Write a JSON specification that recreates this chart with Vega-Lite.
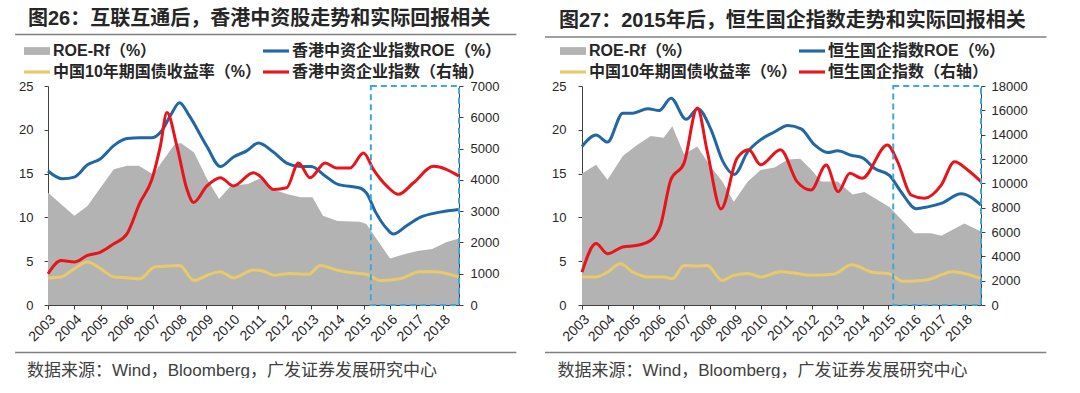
{
  "$schema": "https://vega.github.io/schema/vega-lite/v6.json",
  "background": "white",
  "padding": {"left": 14, "top": 8, "right": 0, "bottom": 0},
  "autosize": {"type": "pad"},
  "spacing": 26,
  "datasets": {
    "l_rf": [
      {"t": 2003.0, "v": 12.8}, {"t": 2004.0, "v": 10.2}, {"t": 2004.5, "v": 11.3}, {"t": 2005.0, "v": 13.4},
      {"t": 2005.5, "v": 15.5}, {"t": 2006.0, "v": 15.9}, {"t": 2006.45, "v": 15.9}, {"t": 2007.0, "v": 14.9},
      {"t": 2007.3, "v": 16.2}, {"t": 2007.8, "v": 18.3}, {"t": 2008.05, "v": 18.5}, {"t": 2008.55, "v": 17.4},
      {"t": 2009.05, "v": 14.35}, {"t": 2009.5, "v": 12.1}, {"t": 2009.95, "v": 13.6}, {"t": 2010.6, "v": 13.8},
      {"t": 2011.1, "v": 14.5}, {"t": 2011.55, "v": 13.2}, {"t": 2012.1, "v": 12.65}, {"t": 2012.6, "v": 12.3},
      {"t": 2013.05, "v": 12.3}, {"t": 2013.45, "v": 10.2}, {"t": 2014.0, "v": 9.6}, {"t": 2014.85, "v": 9.5},
      {"t": 2015.1, "v": 9.25}, {"t": 2016.0, "v": 5.3}, {"t": 2016.6, "v": 5.85}, {"t": 2017.1, "v": 6.2},
      {"t": 2017.6, "v": 6.4}, {"t": 2018.15, "v": 7.2}, {"t": 2018.62, "v": 7.6}
    ],
    "l_roe": [
      {"t": 2003.0, "v": 15.3}, {"t": 2003.55, "v": 14.4}, {"t": 2004.0, "v": 14.6}, {"t": 2004.5, "v": 16.0},
      {"t": 2005.0, "v": 16.7}, {"t": 2005.5, "v": 18.2}, {"t": 2006.0, "v": 19.0}, {"t": 2006.5, "v": 19.1},
      {"t": 2006.95, "v": 19.1}, {"t": 2007.3, "v": 19.8}, {"t": 2007.65, "v": 21.6}, {"t": 2008.0, "v": 23.1},
      {"t": 2008.35, "v": 21.7}, {"t": 2009.04, "v": 18.1}, {"t": 2009.55, "v": 15.8}, {"t": 2010.05, "v": 16.9},
      {"t": 2010.55, "v": 17.6}, {"t": 2011.0, "v": 18.5}, {"t": 2011.55, "v": 17.5}, {"t": 2012.07, "v": 16.2},
      {"t": 2012.6, "v": 15.8}, {"t": 2013.0, "v": 15.8}, {"t": 2013.55, "v": 14.7}, {"t": 2014.0, "v": 13.8},
      {"t": 2014.9, "v": 13.3}, {"t": 2015.1, "v": 12.8}, {"t": 2015.45, "v": 10.6}, {"t": 2015.88, "v": 8.7},
      {"t": 2016.12, "v": 8.1}, {"t": 2016.63, "v": 9.05}, {"t": 2017.14, "v": 10.0}, {"t": 2017.9, "v": 10.6},
      {"t": 2018.62, "v": 10.9}
    ],
    "l_bond": [
      {"t": 2003.0, "v": 3.1}, {"t": 2003.5, "v": 3.2}, {"t": 2004.0, "v": 4.15}, {"t": 2004.5, "v": 4.9},
      {"t": 2005.0, "v": 4.15}, {"t": 2005.5, "v": 3.2}, {"t": 2006.0, "v": 3.1}, {"t": 2006.5, "v": 3.0},
      {"t": 2007.05, "v": 4.35}, {"t": 2007.55, "v": 4.45}, {"t": 2008.0, "v": 4.5}, {"t": 2008.55, "v": 2.8},
      {"t": 2009.05, "v": 3.4}, {"t": 2009.55, "v": 3.8}, {"t": 2010.05, "v": 3.1}, {"t": 2010.8, "v": 4.0},
      {"t": 2011.1, "v": 3.95}, {"t": 2011.6, "v": 3.4}, {"t": 2012.2, "v": 3.6}, {"t": 2012.9, "v": 3.5},
      {"t": 2013.35, "v": 4.5}, {"t": 2013.97, "v": 4.0}, {"t": 2014.48, "v": 3.7}, {"t": 2015.1, "v": 3.5},
      {"t": 2015.63, "v": 2.8}, {"t": 2016.38, "v": 3.0}, {"t": 2017.14, "v": 3.8}, {"t": 2017.65, "v": 3.8},
      {"t": 2018.62, "v": 3.2}
    ],
    "l_idx": [
      {"t": 2003.0, "v": 1000}, {"t": 2003.5, "v": 1420}, {"t": 2004.0, "v": 1375}, {"t": 2004.5, "v": 1586},
      {"t": 2005.0, "v": 1692}, {"t": 2005.5, "v": 1956}, {"t": 2006.0, "v": 2273}, {"t": 2006.5, "v": 3278},
      {"t": 2006.95, "v": 4018}, {"t": 2007.27, "v": 5076}, {"t": 2007.52, "v": 6150}, {"t": 2007.9, "v": 5076},
      {"t": 2008.28, "v": 3701}, {"t": 2008.53, "v": 3278}, {"t": 2009.04, "v": 3807}, {"t": 2009.55, "v": 4071},
      {"t": 2010.05, "v": 3807}, {"t": 2010.8, "v": 4230}, {"t": 2011.06, "v": 4118}, {"t": 2011.57, "v": 3695},
      {"t": 2012.07, "v": 3748}, {"t": 2012.52, "v": 4540}, {"t": 2012.96, "v": 4065}, {"t": 2013.53, "v": 4540},
      {"t": 2013.97, "v": 4382}, {"t": 2014.48, "v": 4382}, {"t": 2014.99, "v": 4857}, {"t": 2015.37, "v": 4329},
      {"t": 2015.88, "v": 3801}, {"t": 2016.32, "v": 3537}, {"t": 2016.89, "v": 3906}, {"t": 2017.65, "v": 4434},
      {"t": 2018.62, "v": 4118}
    ],
    "r_rf": [
      {"t": 2003.0, "v": 15.0}, {"t": 2003.55, "v": 16.0}, {"t": 2004.0, "v": 14.3}, {"t": 2004.6, "v": 17.0},
      {"t": 2005.17, "v": 18.3}, {"t": 2005.7, "v": 19.3}, {"t": 2006.2, "v": 19.1}, {"t": 2006.54, "v": 20.4},
      {"t": 2007.0, "v": 17.2}, {"t": 2007.52, "v": 18.1}, {"t": 2008.04, "v": 15.8}, {"t": 2008.5, "v": 14.1},
      {"t": 2008.95, "v": 11.8}, {"t": 2009.5, "v": 14.1}, {"t": 2010.0, "v": 15.4}, {"t": 2010.55, "v": 15.7},
      {"t": 2011.07, "v": 16.6}, {"t": 2011.55, "v": 16.7}, {"t": 2012.0, "v": 15.4}, {"t": 2012.37, "v": 14.1},
      {"t": 2013.02, "v": 14.1}, {"t": 2013.61, "v": 12.6}, {"t": 2014.07, "v": 12.9}, {"t": 2015.05, "v": 11.2},
      {"t": 2016.03, "v": 8.2}, {"t": 2016.69, "v": 8.2}, {"t": 2017.08, "v": 7.9}, {"t": 2017.99, "v": 9.3},
      {"t": 2018.64, "v": 8.4}
    ],
    "r_roe": [
      {"t": 2003.0, "v": 18.1}, {"t": 2003.55, "v": 19.4}, {"t": 2004.0, "v": 18.6}, {"t": 2004.6, "v": 21.9},
      {"t": 2004.99, "v": 21.9}, {"t": 2005.58, "v": 22.4}, {"t": 2006.03, "v": 22.2}, {"t": 2006.49, "v": 23.6},
      {"t": 2007.08, "v": 21.2}, {"t": 2007.54, "v": 22.4}, {"t": 2008.06, "v": 20.0}, {"t": 2008.52, "v": 16.4},
      {"t": 2008.97, "v": 14.9}, {"t": 2009.5, "v": 17.5}, {"t": 2010.02, "v": 18.9}, {"t": 2010.54, "v": 19.75},
      {"t": 2011.07, "v": 20.5}, {"t": 2011.59, "v": 20.1}, {"t": 2012.11, "v": 18.3}, {"t": 2012.63, "v": 17.4},
      {"t": 2013.02, "v": 17.6}, {"t": 2013.55, "v": 17.1}, {"t": 2014.0, "v": 16.8}, {"t": 2014.46, "v": 15.6},
      {"t": 2015.05, "v": 14.8}, {"t": 2015.51, "v": 12.9}, {"t": 2016.1, "v": 11.0}, {"t": 2016.55, "v": 11.2},
      {"t": 2017.08, "v": 11.6}, {"t": 2017.86, "v": 12.7}, {"t": 2018.64, "v": 11.4}
    ],
    "r_bond": [
      {"t": 2003.0, "v": 3.2}, {"t": 2003.55, "v": 3.2}, {"t": 2004.0, "v": 3.75}, {"t": 2004.5, "v": 4.7},
      {"t": 2005.0, "v": 3.75}, {"t": 2005.57, "v": 3.2}, {"t": 2006.2, "v": 3.2}, {"t": 2006.54, "v": 3.0},
      {"t": 2007.0, "v": 4.5}, {"t": 2007.52, "v": 4.45}, {"t": 2007.91, "v": 4.5}, {"t": 2008.5, "v": 2.8},
      {"t": 2008.95, "v": 3.4}, {"t": 2009.5, "v": 3.6}, {"t": 2010.0, "v": 3.2}, {"t": 2010.78, "v": 3.8},
      {"t": 2011.43, "v": 3.6}, {"t": 2011.95, "v": 3.4}, {"t": 2012.85, "v": 3.5}, {"t": 2013.57, "v": 4.6},
      {"t": 2014.42, "v": 3.7}, {"t": 2015.0, "v": 3.6}, {"t": 2015.59, "v": 2.7}, {"t": 2016.5, "v": 2.85},
      {"t": 2017.54, "v": 3.8}, {"t": 2018.64, "v": 3.0}
    ],
    "r_idx": [
      {"t": 2003.0, "v": 2700}, {"t": 2003.55, "v": 5045}, {"t": 2004.0, "v": 4218}, {"t": 2004.59, "v": 4768},
      {"t": 2005.17, "v": 4906}, {"t": 2005.7, "v": 5320}, {"t": 2006.08, "v": 6560}, {"t": 2006.48, "v": 10280},
      {"t": 2007.0, "v": 11660}, {"t": 2007.52, "v": 16200}, {"t": 2007.91, "v": 12620}, {"t": 2008.45, "v": 7900},
      {"t": 2009.08, "v": 12070}, {"t": 2009.54, "v": 12760}, {"t": 2010.0, "v": 11520}, {"t": 2010.78, "v": 12760},
      {"t": 2011.43, "v": 10140}, {"t": 2011.98, "v": 9450}, {"t": 2012.57, "v": 11500}, {"t": 2013.04, "v": 9315},
      {"t": 2013.5, "v": 10820}, {"t": 2013.98, "v": 10410}, {"t": 2014.97, "v": 13150}, {"t": 2015.37, "v": 11780},
      {"t": 2015.9, "v": 9040}, {"t": 2016.42, "v": 8770}, {"t": 2017.08, "v": 9860}, {"t": 2017.6, "v": 11780},
      {"t": 2018.12, "v": 11100}, {"t": 2018.64, "v": 10140}
    ]
  },
  "config": {
    "view": {"stroke": null},
    "font": "Liberation Sans",
    "axis": {
      "domainColor": "#404040", "tickColor": "#404040", "tickSize": 4, "domainWidth": 1, "tickWidth": 1,
      "labelFont": "Liberation Sans", "labelFontSize": 13, "labelColor": "#262626", "grid": false,
      "labelOverlap": false
    },
    "title": {
      "font": "Liberation Sans, Noto Sans CJK SC", "fontSize": 20, "fontWeight": "bold", "color": "#262626",
      "anchor": "start", "frame": "group", "offset": 5
    },
    "legend": {
      "orient": "none", "direction": "horizontal", "columns": 2, "columnPadding": 1, "rowPadding": -6, "symbolSize": 676,
      "symbolStrokeWidth": 0, "labelOffset": 3, "labelFont": "Liberation Sans, Noto Sans CJK SC",
      "labelFontSize": 16, "labelFontWeight": "bold", "labelColor": "#262626", "labelLimit": 400,
      "symbolOpacity": 1
    }
  },
  "resolve": {"scale": {"color": "independent"}, "legend": {"color": "independent"}},
  "hconcat": [
    {
      "width": 411, "height": 219,
      "title": {"text": "图26：互联互通后，香港中资股走势和实际回报相关", "dx": -20},
      "resolve": {"scale": {"y": "independent"}},
      "layer": [
        {
          "layer": [
            {
              "data": {"name": "l_rf"},
              "mark": {"type": "area", "opacity": 1, "interpolate": "linear"},
              "encoding": {
                "x": {"field": "t", "type": "quantitative",
                  "scale": {"domain": [2003, 2018.62], "nice": false, "zero": false},
                  "axis": {"values": [2003,2004,2005,2006,2007,2008,2009,2010,2011,2012,2013,2014,2015,2016,2017,2018],
                    "tickCount": 30, "format": "d", "labelAngle": -45, "labelPadding": 3, "labelFontSize": 14, "labelOverlap": false,
                    "title": "数据来源：Wind，Bloomberg，广发证券发展研究中心",
                    "titleFont": "Liberation Sans, Noto Sans CJK SC", "titleFontSize": 17, "titleFontWeight": "normal",
                    "titleColor": "#404040", "titleAlign": "left", "titleBaseline": "middle", "titleAnchor": "start",
                    "titleX": -21.5, "titleY": 65}},
                "y": {"field": "v", "type": "quantitative",
                  "scale": {"domain": [0, 25], "nice": false},
                  "axis": {"values": [0, 5, 10, 15, 20, 25], "tickCount": 20, "title": null, "labelPadding": 11, "labelOverlap": false}},
                "color": {"datum": "ROE-Rf（%）",
                  "scale": {"domain": ["ROE-Rf（%）", "香港中资企业指数ROE（%）", "中国10年期国债收益率（%）", "香港中资企业指数（右轴）"],
                    "range": ["#B3B3B3", "#2167A4", "#E9C96A", "#E8141B"]},
                  "legend": {"title": null, "legendX": -24, "legendY": -48,
                    "encode": {"symbols": {"update": {"shape": {"signal": "datum.value === 'ROE-Rf（%）' ? 'M-1,-0.3H1V0.3H-1Z' : 'M-1,-0.12H1V0.12H-1Z'"}}}}}}
              }
            },
            {
              "data": {"name": "l_roe"},
              "mark": {"type": "line", "strokeWidth": 3, "interpolate": "monotone"},
              "encoding": {
                "x": {"field": "t", "type": "quantitative"},
                "y": {"field": "v", "type": "quantitative"},
                "color": {"datum": "香港中资企业指数ROE（%）", "legend": null}
              }
            },
            {
              "data": {"name": "l_bond"},
              "mark": {"type": "line", "strokeWidth": 3, "interpolate": "monotone"},
              "encoding": {
                "x": {"field": "t", "type": "quantitative"},
                "y": {"field": "v", "type": "quantitative"},
                "color": {"datum": "中国10年期国债收益率（%）", "legend": null}
              }
            },
            {
              "data": {"values": [{}]},
              "mark": {"type": "rule", "color": "#808080", "strokeWidth": 1.5},
              "encoding": {"x": {"datum": 2001.75}, "x2": {"datum": 2020.8}, "y": {"datum": 30.87}}
            },
            {
              "data": {"values": [{}]},
              "mark": {"type": "rule", "color": "#808080", "strokeWidth": 1.5},
              "encoding": {"x": {"datum": 2001.75}, "x2": {"datum": 2020.8}, "y": {"datum": -5.42}}
            }
          ]
        },
        {
          "layer": [
            {
              "data": {"name": "l_idx"},
              "mark": {"type": "line", "strokeWidth": 3, "interpolate": "monotone"},
              "encoding": {
                "x": {"field": "t", "type": "quantitative"},
                "y": {"field": "v", "type": "quantitative",
                  "scale": {"domain": [0, 7000], "nice": false},
                  "axis": {"orient": "right", "values": [0,1000,2000,3000,4000,5000,6000,7000], "tickCount": 20, "format": "d", "title": null, "labelPadding": 7, "labelOverlap": false}},
                "color": {"datum": "香港中资企业指数（右轴）", "legend": null}
              }
            },
            {
              "data": {"values": [{}]},
              "mark": {"type": "rect", "filled": false, "stroke": "#3EA8DC", "strokeWidth": 2, "strokeDash": [6, 4]},
              "encoding": {"x": {"datum": 2015.27}, "x2": {"datum": 2018.62}, "y": {"datum": 0}, "y2": {"datum": 7000}}
            }
          ]
        }
      ]
    },
    {
      "width": 399, "height": 219,
      "title": {"text": "图27：2015年后，恒生国企指数走势和实际回报相关", "dx": -23},
      "resolve": {"scale": {"y": "independent"}},
      "layer": [
        {
          "layer": [
            {
              "data": {"name": "r_rf"},
              "mark": {"type": "area", "opacity": 1, "interpolate": "linear"},
              "encoding": {
                "x": {"field": "t", "type": "quantitative",
                  "scale": {"domain": [2003, 2018.64], "nice": false, "zero": false},
                  "axis": {"values": [2003,2004,2005,2006,2007,2008,2009,2010,2011,2012,2013,2014,2015,2016,2017,2018],
                    "tickCount": 30, "format": "d", "labelAngle": -45, "labelPadding": 3, "labelFontSize": 14, "labelOverlap": false,
                    "title": "数据来源：Wind，Bloomberg，广发证券发展研究中心",
                    "titleFont": "Liberation Sans, Noto Sans CJK SC", "titleFontSize": 17, "titleFontWeight": "normal",
                    "titleColor": "#404040", "titleAlign": "left", "titleBaseline": "middle", "titleAnchor": "start",
                    "titleX": -25, "titleY": 65}},
                "y": {"field": "v", "type": "quantitative",
                  "scale": {"domain": [0, 25], "nice": false},
                  "axis": {"values": [0, 5, 10, 15, 20, 25], "tickCount": 20, "title": null, "labelPadding": 12, "labelOverlap": false}},
                "color": {"datum": "ROE-Rf（%）",
                  "scale": {"domain": ["ROE-Rf（%）", "恒生国企指数ROE（%）", "中国10年期国债收益率（%）", "恒生国企指数（右轴）"],
                    "range": ["#B3B3B3", "#2167A4", "#E9C96A", "#E8141B"]},
                  "legend": {"title": null, "legendX": -22, "legendY": -48,
                    "encode": {"symbols": {"update": {"shape": {"signal": "datum.value === 'ROE-Rf（%）' ? 'M-1,-0.3H1V0.3H-1Z' : 'M-1,-0.12H1V0.12H-1Z'"}}}}}}
              }
            },
            {
              "data": {"name": "r_roe"},
              "mark": {"type": "line", "strokeWidth": 3, "interpolate": "monotone"},
              "encoding": {
                "x": {"field": "t", "type": "quantitative"},
                "y": {"field": "v", "type": "quantitative"},
                "color": {"datum": "恒生国企指数ROE（%）", "legend": null}
              }
            },
            {
              "data": {"name": "r_bond"},
              "mark": {"type": "line", "strokeWidth": 3, "interpolate": "monotone"},
              "encoding": {
                "x": {"field": "t", "type": "quantitative"},
                "y": {"field": "v", "type": "quantitative"},
                "color": {"datum": "中国10年期国债收益率（%）", "legend": null}
              }
            },
            {
              "data": {"values": [{}]},
              "mark": {"type": "rule", "color": "#808080", "strokeWidth": 1.5},
              "encoding": {"x": {"datum": 2001.55}, "x2": {"datum": 2021.2}, "y": {"datum": 30.6}}
            },
            {
              "data": {"values": [{}]},
              "mark": {"type": "rule", "color": "#808080", "strokeWidth": 1.5},
              "encoding": {"x": {"datum": 2001.55}, "x2": {"datum": 2021.2}, "y": {"datum": -5.42}}
            }
          ]
        },
        {
          "layer": [
            {
              "data": {"name": "r_idx"},
              "mark": {"type": "line", "strokeWidth": 3, "interpolate": "monotone"},
              "encoding": {
                "x": {"field": "t", "type": "quantitative"},
                "y": {"field": "v", "type": "quantitative",
                  "scale": {"domain": [0, 18000], "nice": false},
                  "axis": {"orient": "right", "values": [0,2000,4000,6000,8000,10000,12000,14000,16000,18000], "tickCount": 20, "format": "d", "title": null, "labelPadding": 6, "labelOverlap": false}},
                "color": {"datum": "恒生国企指数（右轴）", "legend": null}
              }
            },
            {
              "data": {"values": [{}]},
              "mark": {"type": "rect", "filled": false, "stroke": "#3EA8DC", "strokeWidth": 2, "strokeDash": [6, 4]},
              "encoding": {"x": {"datum": 2015.2}, "x2": {"datum": 2018.64}, "y": {"datum": 0}, "y2": {"datum": 18000}}
            }
          ]
        }
      ]
    }
  ]
}
